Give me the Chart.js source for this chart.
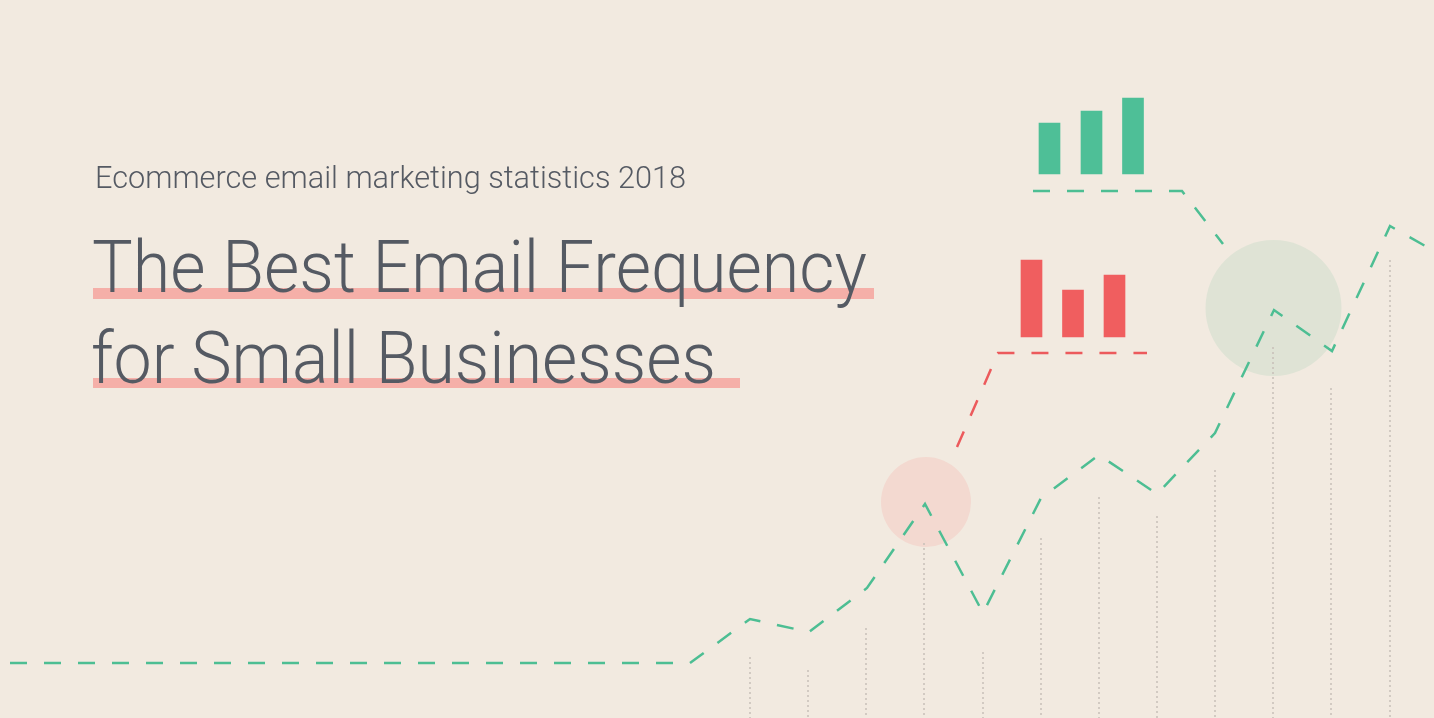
<!DOCTYPE html>
<html>
<head>
<meta charset="utf-8">
<script src="https://cdn.jsdelivr.net/npm/chart.js@4.4.1/dist/chart.umd.min.js"></script>
<style>
  html, body { margin: 0; padding: 0; background: #F2EAE0; overflow: hidden; }
  #stage { position: relative; width: 1434px; height: 718px; background: #F2EAE0; }
  #hero-chart { position: absolute; left: 0; top: 0; }
  .mark { position: absolute; background: #F5AFA8; }
  .txt {
    position: absolute; white-space: nowrap; color: #555A63;
    font-family: Roboto, "Open Sans", sans-serif; font-weight: 300;
    line-height: 1; transform-origin: 0 0;
  }
  #subtitle { font-size: 31px; left: 95px; top: 162px; }
  #title1 { font-size: 73px; left: 92px; top: 231px; }
  #title2 { font-size: 73px; left: 91px; top: 322px; }
</style>
</head>
<body>
<div id="stage">
  <canvas id="hero-chart" width="1434" height="718"></canvas>
  <div class="mark" style="left:93px; top:288px; width:781px; height:11px;"></div>
  <div class="mark" style="left:93px; top:378px; width:647px; height:10px;"></div>
  <div class="txt" id="subtitle" data-w="591">Ecommerce email marketing statistics 2018</div>
  <div class="txt" id="title1" data-w="775">The Best Email Frequency</div>
  <div class="txt" id="title2" data-w="625">for Small Businesses</div>
</div>
<script>
// Trend line (green, dashed)
const trendX = [10, 690, 750, 809, 867, 925, 983, 1041, 1099, 1157, 1215, 1274, 1332, 1390, 1434];
const trendY = [55, 55, 99, 86, 130, 214, 105, 220, 263, 224, 285, 408, 367, 492, 467];

// Dotted drop lines under the trend points
const dropX = [750, 808, 866, 924, 983, 1041, 1099, 1157, 1215, 1273, 1331, 1390];
const dropTop = [61, 48, 90, 175, 66, 180, 221, 202, 248, 371, 330, 458];

// Small bar groups
const greenBarX = [1049.5, 1091.5, 1133];
const greenBarTop = [595, 607, 620];
const greenBarBase = 544;
const redBarX = [1031.5, 1073, 1114.5];
const redBarTop = [458, 428, 443];
const redBarBase = 381;

// Connector lines from the circles to the bar groups
const redPathX = [957, 998, 1147];
const redPathY = [271, 365, 365];
const greenPathX = [1033, 1182, 1223];
const greenPathY = [527, 527, 474];

// Highlight circles
const circleX = [926, 1273.5];
const circleY = [216, 410];
const circleR = [45, 68];
const circleColors = ['#F3D9D0', '#DFE3D5'];

const GREEN = '#4DBE93';
const RED = '#EC5A5C';

function toPoints(xs, ys) {
    return xs.map((x, i) => ({ x: x, y: ys[i] }));
}

function dropPoints() {
    const pts = [];
    dropX.forEach((x, i) => {
        pts.push({ x: x, y: dropTop[i] });
        pts.push({ x: x, y: 0 });
        pts.push({ x: x, y: null });
    });
    return pts;
}

function dashedLine(points, color, order) {
    return {
        type: 'line',
        data: points,
        borderColor: color,
        borderWidth: 2.5,
        borderDash: [17, 17],
        borderCapStyle: 'butt',
        borderJoinStyle: 'miter',
        pointRadius: 0,
        tension: 0,
        fill: false,
        order: order
    };
}

const ctx = document.getElementById('hero-chart').getContext('2d');

const heroChart = new Chart(ctx, {
    type: 'line',
    data: {
        datasets: [
            {
                type: 'bubble',
                data: circleX.map((x, i) => ({ x: x, y: circleY[i], r: circleR[i] })),
                backgroundColor: circleColors,
                borderWidth: 0,
                order: 10
            },
            {
                type: 'line',
                data: dropPoints(),
                borderColor: '#C8C0B8',
                borderWidth: 1.5,
                borderDash: [2, 3],
                pointRadius: 0,
                spanGaps: false,
                fill: false,
                order: 6
            },
            {
                type: 'bar',
                data: greenBarX.map((x, i) => ({ x: x, y: [greenBarBase, greenBarTop[i]] })),
                backgroundColor: '#4EBF97',
                barThickness: 21,
                grouped: false,
                borderWidth: 0,
                order: 3
            },
            {
                type: 'bar',
                data: redBarX.map((x, i) => ({ x: x, y: [redBarBase, redBarTop[i]] })),
                backgroundColor: '#F05E5F',
                barThickness: 21,
                grouped: false,
                borderWidth: 0,
                order: 3
            },
            dashedLine(toPoints(redPathX, redPathY), RED, 2),
            dashedLine(toPoints(greenPathX, greenPathY), GREEN, 2),
            dashedLine(toPoints(trendX, trendY), GREEN, 1)
        ]
    },
    options: {
        responsive: false,
        animation: false,
        events: [],
        layout: { padding: 0, autoPadding: false },
        plugins: {
            legend: { display: false },
            tooltip: { enabled: false }
        },
        scales: {
            x: { type: 'linear', min: 0, max: 1434, display: false, offset: false },
            y: { type: 'linear', min: 0, max: 718, display: false }
        }
    }
});

// Squeeze the headline text to the width it has in the picture
function fitText() {
    document.querySelectorAll('.txt').forEach(el => {
        el.style.transform = 'none';
        const w = el.getBoundingClientRect().width;
        const target = parseFloat(el.dataset.w);
        el.style.transform = `scaleX(${target / w})`;
    });
}

if (document.fonts && document.fonts.ready) {
    document.fonts.ready.then(fitText);
}
fitText();
</script>
</body>
</html>
